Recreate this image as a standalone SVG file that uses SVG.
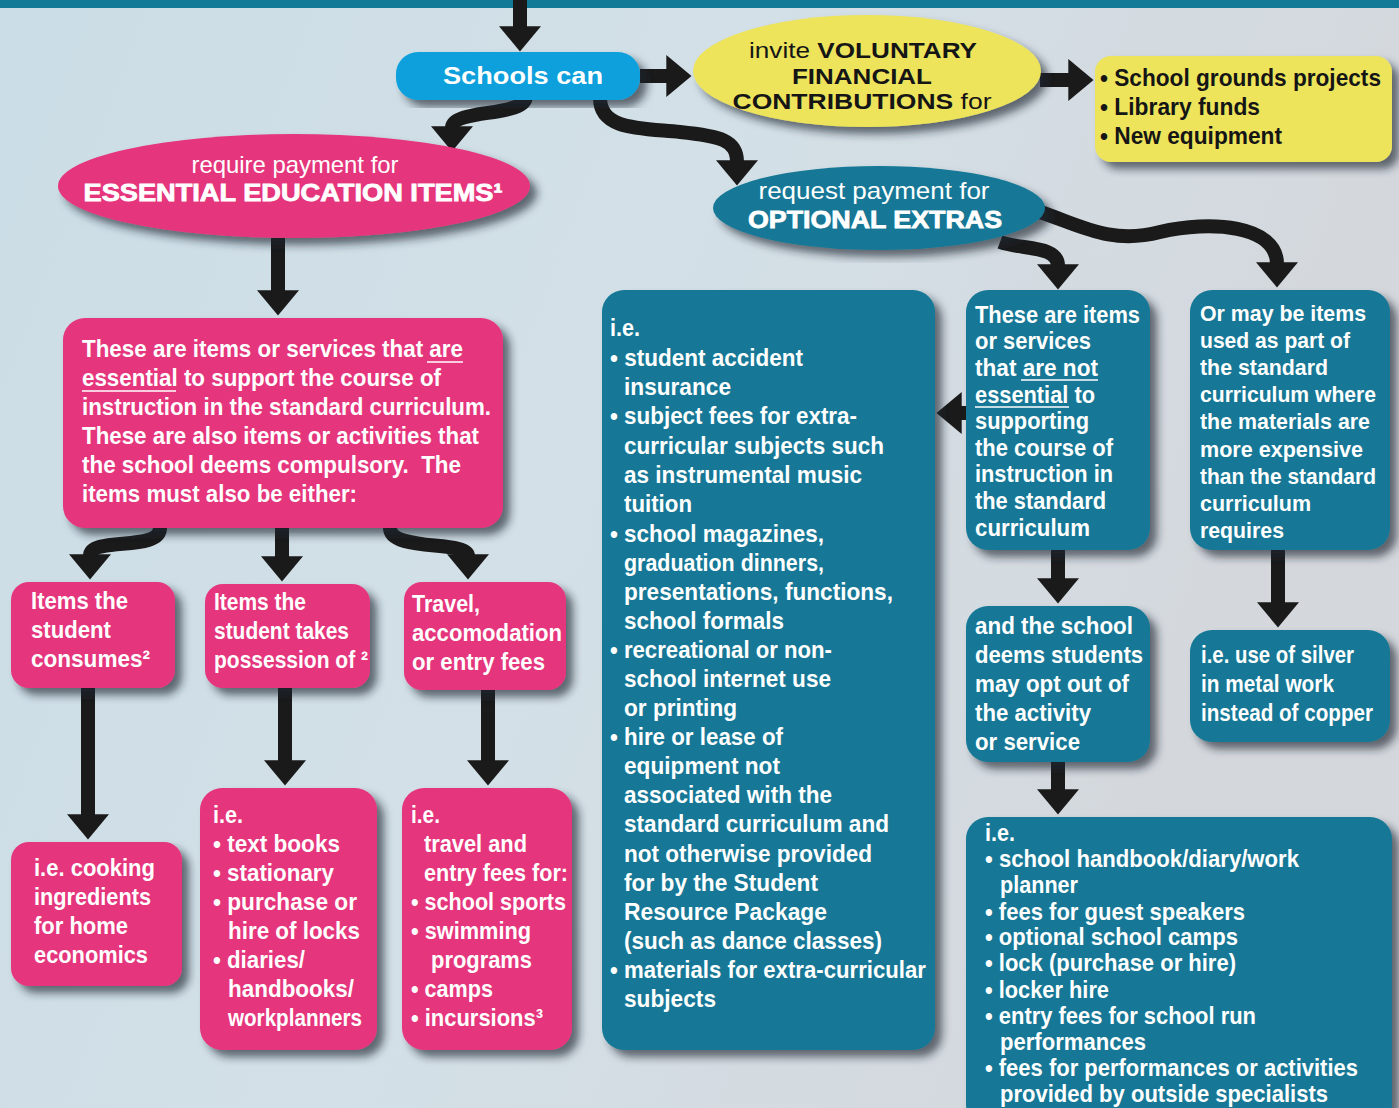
<svg xmlns="http://www.w3.org/2000/svg" width="1399" height="1108" viewBox="0 0 1399 1108">
<defs>
<linearGradient id="bg" x1="0" y1="0" x2="1" y2="0.3">
<stop offset="0" stop-color="#cbdde6"/>
<stop offset="0.5" stop-color="#d3e0e7"/>
<stop offset="1" stop-color="#d4d7dc"/>
</linearGradient>
<filter id="sh" x="-10%" y="-10%" width="125%" height="125%">
<feDropShadow dx="7" dy="7" stdDeviation="4" flood-color="#1c2530" flood-opacity="0.65"/>
</filter>
<marker id="ah" viewBox="0 0 6 10" markerUnits="strokeWidth" markerWidth="1.8" markerHeight="3" refX="0.4" refY="5" orient="auto" preserveAspectRatio="none">
<path d="M0,0 L6,5 L0,10 Z" fill="#1a1a1a"/>
</marker>
</defs>
<style>
.t{font-family:"Liberation Sans",Arial,sans-serif;font-weight:bold;font-size:24px;fill:#fff}
.k{fill:#151515}
.s{font-size:22px}
.n{font-weight:normal}
.pk{fill:#e5357c}
.tl{fill:#137896}
.ye{fill:#ede45b}
.cy{fill:#0aa0dc}
.ul{stroke:#fff;stroke-width:1.6}
.c{fill:none;stroke:#1a1a1a;stroke-width:14;marker-end:url(#ah)}
</style>
<rect width="1399" height="1108" fill="url(#bg)"/>
<rect x="0" y="0" width="1399" height="8" fill="#127a96"/>

<g id="connectors">
<path class="c" d="M520 0 L520 28"/>
<path class="c" d="M640 76 L668 76"/>
<path class="c" d="M1040 80 L1070 80"/>
<path class="c" d="M526 96 C526 118 452 108 452 128"/>
<path class="c" d="M600 98 C600 130 640 128 680 132 C720 136 737 140 737 162"/>
<path class="c" d="M278 238 L278 292"/>
<path class="c" d="M160 528 C160 552 90 536 90 556"/>
<path class="c" d="M282 528 L282 558"/>
<path class="c" d="M390 528 C390 552 468 540 468 556"/>
<path class="c" d="M88 688 L88 816"/>
<path class="c" d="M285 688 L285 762"/>
<path class="c" d="M488 690 L488 762"/>
<path class="c" d="M1000 242 C1022 250 1058 245 1058 266"/>
<path class="c" d="M1040 212 C1080 225 1110 245 1160 232 C1210 220 1277 225 1277 264"/>
<path class="c" d="M968 413 L960 413"/>
<path class="c" d="M1058 550 L1058 580"/>
<path class="c" d="M1278 550 L1278 604"/>
<path class="c" d="M1058 762 L1058 791"/>
</g>

<g id="schools-can">
<rect class="cy" x="396" y="52" width="244" height="48" rx="22" filter="url(#sh)"/>
<text class="t" x="523" y="84" text-anchor="middle" textLength="160" lengthAdjust="spacingAndGlyphs">Schools can</text>
</g>

<g id="voluntary">
<ellipse class="ye" cx="867" cy="71" rx="174" ry="56" filter="url(#sh)"/>
<text class="t k s" x="863" y="58" text-anchor="middle" textLength="228" lengthAdjust="spacingAndGlyphs"><tspan class="n">invite </tspan>VOLUNTARY</text>
<text class="t k s" x="862" y="84" text-anchor="middle" textLength="140" lengthAdjust="spacingAndGlyphs">FINANCIAL</text>
<text class="t k s" x="862" y="109" text-anchor="middle" textLength="259" lengthAdjust="spacingAndGlyphs">CONTRIBUTIONS<tspan class="n"> for</tspan></text>
</g>

<g id="voluntary-list">
<rect class="ye" x="1095" y="56" width="297" height="106" rx="16" filter="url(#sh)"/>
<text class="t k" x="1100" y="86" textLength="281" lengthAdjust="spacingAndGlyphs">• School grounds projects</text>
<text class="t k" x="1100" y="115" textLength="160" lengthAdjust="spacingAndGlyphs">• Library funds</text>
<text class="t k" x="1100" y="144" textLength="182" lengthAdjust="spacingAndGlyphs">• New equipment</text>
</g>

<g id="essential-items">
<ellipse class="pk" cx="294" cy="186" rx="236" ry="52" filter="url(#sh)"/>
<text class="t n" x="295" y="173" text-anchor="middle" textLength="207" lengthAdjust="spacingAndGlyphs">require payment for</text>
<text class="t" x="293" y="201" text-anchor="middle" textLength="419" lengthAdjust="spacingAndGlyphs" stroke="#fff" stroke-width="0.8">ESSENTIAL EDUCATION ITEMS¹</text>
</g>

<g id="optional-extras">
<ellipse class="tl" cx="879" cy="208" rx="166" ry="42" filter="url(#sh)"/>
<text class="t n" x="874" y="199" text-anchor="middle" textLength="231" lengthAdjust="spacingAndGlyphs">request payment for</text>
<text class="t" x="875" y="228" text-anchor="middle" textLength="254" lengthAdjust="spacingAndGlyphs" stroke="#fff" stroke-width="0.8">OPTIONAL EXTRAS</text>
</g>

<g id="essential-desc">
<rect class="pk" x="63" y="318" width="440" height="210" rx="22" filter="url(#sh)"/>
<text class="t" x="82" y="357" textLength="381" lengthAdjust="spacingAndGlyphs">These are items or services that are</text>
<text class="t" x="82" y="386" textLength="359" lengthAdjust="spacingAndGlyphs">essential to support the course of</text>
<text class="t" x="82" y="415" textLength="409" lengthAdjust="spacingAndGlyphs">instruction in the standard curriculum.</text>
<text class="t" x="82" y="444" textLength="397" lengthAdjust="spacingAndGlyphs">These are also items or activities that</text>
<text class="t" x="82" y="473" textLength="379" lengthAdjust="spacingAndGlyphs">the school deems compulsory.&#160; The</text>
<text class="t" x="82" y="502" textLength="275" lengthAdjust="spacingAndGlyphs">items must also be either:</text>
<line class="ul" x1="427" y1="362" x2="463" y2="362"/>
<line class="ul" x1="82" y1="391" x2="176" y2="391"/>
</g>

<g id="consumes">
<rect class="pk" x="11" y="582" width="164" height="106" rx="18" filter="url(#sh)"/>
<text class="t" x="31" y="609" textLength="97" lengthAdjust="spacingAndGlyphs">Items the</text>
<text class="t" x="31" y="638" textLength="80" lengthAdjust="spacingAndGlyphs">student</text>
<text class="t" x="31" y="667" textLength="119" lengthAdjust="spacingAndGlyphs">consumes²</text>
</g>

<g id="possession">
<rect class="pk" x="205" y="584" width="165" height="104" rx="18" filter="url(#sh)"/>
<text class="t" x="214" y="610" textLength="92" lengthAdjust="spacingAndGlyphs">Items the</text>
<text class="t" x="214" y="639" textLength="135" lengthAdjust="spacingAndGlyphs">student takes</text>
<text class="t" x="214" y="668" textLength="154" lengthAdjust="spacingAndGlyphs">possession of ²</text>
</g>

<g id="travel">
<rect class="pk" x="404" y="582" width="162" height="108" rx="18" filter="url(#sh)"/>
<text class="t" x="412" y="612" textLength="68" lengthAdjust="spacingAndGlyphs">Travel,</text>
<text class="t" x="412" y="641" textLength="150" lengthAdjust="spacingAndGlyphs">accomodation</text>
<text class="t" x="412" y="670" textLength="133" lengthAdjust="spacingAndGlyphs">or entry fees</text>
</g>

<g id="cooking">
<rect class="pk" x="11" y="842" width="171" height="144" rx="18" filter="url(#sh)"/>
<text class="t" x="34" y="876" textLength="121" lengthAdjust="spacingAndGlyphs">i.e. cooking</text>
<text class="t" x="34" y="905" textLength="117" lengthAdjust="spacingAndGlyphs">ingredients</text>
<text class="t" x="34" y="934" textLength="94" lengthAdjust="spacingAndGlyphs">for home</text>
<text class="t" x="34" y="963" textLength="114" lengthAdjust="spacingAndGlyphs">economics</text>
</g>

<g id="possession-list">
<rect class="pk" x="200" y="788" width="177" height="262" rx="22" filter="url(#sh)"/>
<text class="t" x="213" y="823" textLength="30" lengthAdjust="spacingAndGlyphs">i.e.</text>
<text class="t" x="213" y="852" textLength="127" lengthAdjust="spacingAndGlyphs">• text books</text>
<text class="t" x="213" y="881" textLength="121" lengthAdjust="spacingAndGlyphs">• stationary</text>
<text class="t" x="213" y="910" textLength="144" lengthAdjust="spacingAndGlyphs">• purchase or</text>
<text class="t" x="228" y="939" textLength="132" lengthAdjust="spacingAndGlyphs">hire of locks</text>
<text class="t" x="213" y="968" textLength="92" lengthAdjust="spacingAndGlyphs">• diaries/</text>
<text class="t" x="228" y="997" textLength="126" lengthAdjust="spacingAndGlyphs">handbooks/</text>
<text class="t" x="228" y="1026" textLength="134" lengthAdjust="spacingAndGlyphs">workplanners</text>
</g>

<g id="travel-list">
<rect class="pk" x="402" y="788" width="170" height="262" rx="22" filter="url(#sh)"/>
<text class="t" x="411" y="823" textLength="29" lengthAdjust="spacingAndGlyphs">i.e.</text>
<text class="t" x="424" y="852" textLength="103" lengthAdjust="spacingAndGlyphs">travel and</text>
<text class="t" x="424" y="881" textLength="144" lengthAdjust="spacingAndGlyphs">entry fees for:</text>
<text class="t" x="411" y="910" textLength="155" lengthAdjust="spacingAndGlyphs">• school sports</text>
<text class="t" x="411" y="939" textLength="120" lengthAdjust="spacingAndGlyphs">• swimming</text>
<text class="t" x="431" y="968" textLength="101" lengthAdjust="spacingAndGlyphs">programs</text>
<text class="t" x="411" y="997" textLength="82" lengthAdjust="spacingAndGlyphs">• camps</text>
<text class="t" x="411" y="1026" textLength="132" lengthAdjust="spacingAndGlyphs">• incursions³</text>
</g>

<g id="optional-list">
<rect class="tl" x="602" y="290" width="333" height="760" rx="22" filter="url(#sh)"/>
<text class="t" x="610" y="336" textLength="30" lengthAdjust="spacingAndGlyphs">i.e.</text>
<text class="t" x="610" y="366" textLength="193" lengthAdjust="spacingAndGlyphs">• student accident</text>
<text class="t" x="624" y="395" textLength="107" lengthAdjust="spacingAndGlyphs">insurance</text>
<text class="t" x="610" y="424" textLength="247" lengthAdjust="spacingAndGlyphs">• subject fees for extra-</text>
<text class="t" x="624" y="454" textLength="260" lengthAdjust="spacingAndGlyphs">curricular subjects such</text>
<text class="t" x="624" y="483" textLength="238" lengthAdjust="spacingAndGlyphs">as instrumental music</text>
<text class="t" x="624" y="512" textLength="68" lengthAdjust="spacingAndGlyphs">tuition</text>
<text class="t" x="610" y="542" textLength="214" lengthAdjust="spacingAndGlyphs">• school magazines,</text>
<text class="t" x="624" y="571" textLength="200" lengthAdjust="spacingAndGlyphs">graduation dinners,</text>
<text class="t" x="624" y="600" textLength="269" lengthAdjust="spacingAndGlyphs">presentations, functions,</text>
<text class="t" x="624" y="629" textLength="160" lengthAdjust="spacingAndGlyphs">school formals</text>
<text class="t" x="610" y="658" textLength="222" lengthAdjust="spacingAndGlyphs">• recreational or non-</text>
<text class="t" x="624" y="687" textLength="207" lengthAdjust="spacingAndGlyphs">school internet use</text>
<text class="t" x="624" y="716" textLength="113" lengthAdjust="spacingAndGlyphs">or printing</text>
<text class="t" x="610" y="745" textLength="173" lengthAdjust="spacingAndGlyphs">• hire or lease of</text>
<text class="t" x="624" y="774" textLength="156" lengthAdjust="spacingAndGlyphs">equipment not</text>
<text class="t" x="624" y="803" textLength="208" lengthAdjust="spacingAndGlyphs">associated with the</text>
<text class="t" x="624" y="832" textLength="265" lengthAdjust="spacingAndGlyphs">standard curriculum and</text>
<text class="t" x="624" y="862" textLength="248" lengthAdjust="spacingAndGlyphs">not otherwise provided</text>
<text class="t" x="624" y="891" textLength="194" lengthAdjust="spacingAndGlyphs">for by the Student</text>
<text class="t" x="624" y="920" textLength="203" lengthAdjust="spacingAndGlyphs">Resource Package</text>
<text class="t" x="624" y="949" textLength="258" lengthAdjust="spacingAndGlyphs">(such as dance classes)</text>
<text class="t" x="610" y="978" textLength="316" lengthAdjust="spacingAndGlyphs">• materials for extra-curricular</text>
<text class="t" x="624" y="1007" textLength="92" lengthAdjust="spacingAndGlyphs">subjects</text>
</g>

<g id="not-essential">
<rect class="tl" x="966" y="290" width="184" height="260" rx="22" filter="url(#sh)"/>
<text class="t" x="975" y="323" textLength="165" lengthAdjust="spacingAndGlyphs">These are items</text>
<text class="t" x="975" y="349" textLength="116" lengthAdjust="spacingAndGlyphs">or services</text>
<text class="t" x="975" y="376" textLength="123" lengthAdjust="spacingAndGlyphs">that are not</text>
<text class="t" x="975" y="403" textLength="120" lengthAdjust="spacingAndGlyphs">essential to</text>
<text class="t" x="975" y="429" textLength="114" lengthAdjust="spacingAndGlyphs">supporting</text>
<text class="t" x="975" y="456" textLength="138" lengthAdjust="spacingAndGlyphs">the course of</text>
<text class="t" x="975" y="482" textLength="138" lengthAdjust="spacingAndGlyphs">instruction in</text>
<text class="t" x="975" y="509" textLength="131" lengthAdjust="spacingAndGlyphs">the standard</text>
<text class="t" x="975" y="536" textLength="115" lengthAdjust="spacingAndGlyphs">curriculum</text>
<line class="ul" x1="1021" y1="380" x2="1098" y2="380"/>
<line class="ul" x1="975" y1="407" x2="1069" y2="407"/>
</g>

<g id="more-expensive">
<rect class="tl" x="1190" y="290" width="200" height="260" rx="22" filter="url(#sh)"/>
<text class="t s" x="1200" y="321" textLength="166" lengthAdjust="spacingAndGlyphs">Or may be items</text>
<text class="t s" x="1200" y="348" textLength="150" lengthAdjust="spacingAndGlyphs">used as part of</text>
<text class="t s" x="1200" y="375" textLength="128" lengthAdjust="spacingAndGlyphs">the standard</text>
<text class="t s" x="1200" y="402" textLength="176" lengthAdjust="spacingAndGlyphs">curriculum where</text>
<text class="t s" x="1200" y="429" textLength="170" lengthAdjust="spacingAndGlyphs">the materials are</text>
<text class="t s" x="1200" y="457" textLength="163" lengthAdjust="spacingAndGlyphs">more expensive</text>
<text class="t s" x="1200" y="484" textLength="176" lengthAdjust="spacingAndGlyphs">than the standard</text>
<text class="t s" x="1200" y="511" textLength="111" lengthAdjust="spacingAndGlyphs">curriculum</text>
<text class="t s" x="1200" y="538" textLength="84" lengthAdjust="spacingAndGlyphs">requires</text>
</g>

<g id="opt-out">
<rect class="tl" x="966" y="606" width="184" height="156" rx="22" filter="url(#sh)"/>
<text class="t" x="975" y="634" textLength="158" lengthAdjust="spacingAndGlyphs">and the school</text>
<text class="t" x="975" y="663" textLength="168" lengthAdjust="spacingAndGlyphs">deems students</text>
<text class="t" x="975" y="692" textLength="154" lengthAdjust="spacingAndGlyphs">may opt out of</text>
<text class="t" x="975" y="721" textLength="116" lengthAdjust="spacingAndGlyphs">the activity</text>
<text class="t" x="975" y="750" textLength="105" lengthAdjust="spacingAndGlyphs">or service</text>
</g>

<g id="silver">
<rect class="tl" x="1190" y="630" width="200" height="112" rx="22" filter="url(#sh)"/>
<text class="t" x="1201" y="663" textLength="153" lengthAdjust="spacingAndGlyphs">i.e. use of silver</text>
<text class="t" x="1201" y="692" textLength="133" lengthAdjust="spacingAndGlyphs">in metal work</text>
<text class="t" x="1201" y="721" textLength="172" lengthAdjust="spacingAndGlyphs">instead of copper</text>
</g>

<g id="opt-out-list">
<rect class="tl" x="966" y="817" width="426" height="310" rx="22" filter="url(#sh)"/>
<text class="t" x="985" y="841" textLength="30" lengthAdjust="spacingAndGlyphs">i.e.</text>
<text class="t" x="985" y="867" textLength="314" lengthAdjust="spacingAndGlyphs">• school handbook/diary/work</text>
<text class="t" x="1000" y="893" textLength="78" lengthAdjust="spacingAndGlyphs">planner</text>
<text class="t" x="985" y="920" textLength="260" lengthAdjust="spacingAndGlyphs">• fees for guest speakers</text>
<text class="t" x="985" y="945" textLength="253" lengthAdjust="spacingAndGlyphs">• optional school camps</text>
<text class="t" x="985" y="971" textLength="251" lengthAdjust="spacingAndGlyphs">• lock (purchase or hire)</text>
<text class="t" x="985" y="998" textLength="124" lengthAdjust="spacingAndGlyphs">• locker hire</text>
<text class="t" x="985" y="1024" textLength="271" lengthAdjust="spacingAndGlyphs">• entry fees for school run</text>
<text class="t" x="1000" y="1050" textLength="146" lengthAdjust="spacingAndGlyphs">performances</text>
<text class="t" x="985" y="1076" textLength="373" lengthAdjust="spacingAndGlyphs">• fees for performances or activities</text>
<text class="t" x="1000" y="1102" textLength="328" lengthAdjust="spacingAndGlyphs">provided by outside specialists</text>
</g>
</svg>
